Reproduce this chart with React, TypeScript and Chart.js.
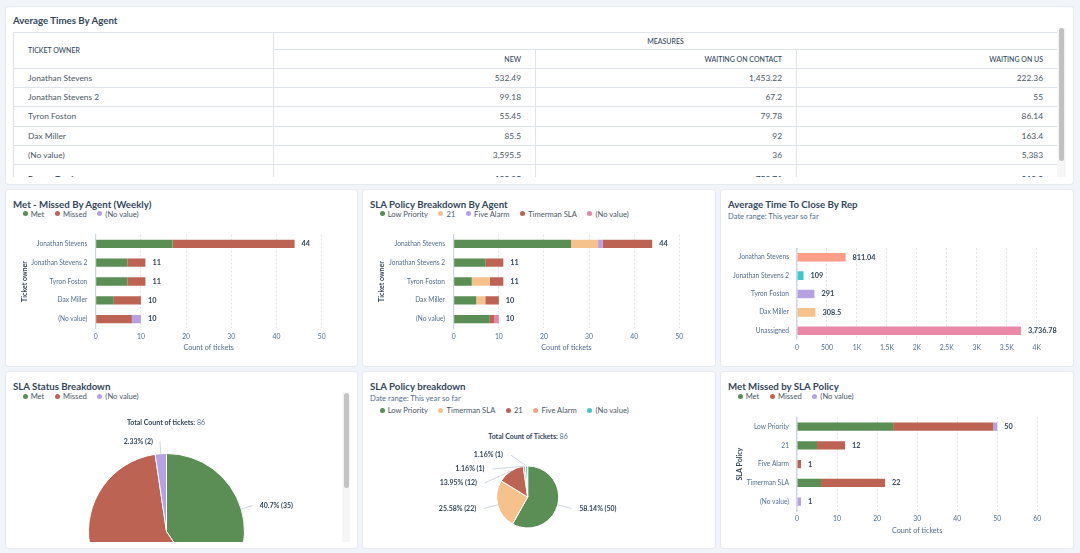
import React, { useEffect, useRef } from "react";
import { Chart, registerables } from "chart.js";

Chart.register(...registerables);

const FONT = "Lato, 'Open Sans', sans-serif";
Chart.defaults.font.family = FONT;

// ---------- Table data ----------
const tableOwners = ["Jonathan Stevens", "Jonathan Stevens 2", "Tyron Foston", "Dax Miller", "(No value)"];
const tableNew = ["532.49", "99.18", "55.45", "85.5", "3,595.5"];
const tableWaitingContact = ["1,453.22", "67.2", "79.78", "92", "36"];
const tableWaitingUs = ["222.36", "55", "86.14", "163.4", "5,383"];
const tableTotals = ["Report Total", "123.85", "758.71", "319.3"];

// ---------- Met - Missed By Agent ----------
const agents = ["Jonathan Stevens", "Jonathan Stevens 2", "Tyron Foston", "Dax Miller", "(No value)"];
const agentMet = [17, 7, 7, 4, 0];
const agentMissed = [27, 4, 4, 6, 8];
const agentNoValue = [0, 0, 0, 0, 2];

// ---------- SLA Policy Breakdown By Agent ----------
const policyLowPriority = [26, 7, 4, 5, 8];
const policy21 = [6, 0, 4, 2, 0];
const policyFiveAlarm = [1, 0, 0, 0, 0];
const policyTimerman = [11, 4, 3, 3, 1];
const policyNoValue = [0, 0, 0, 0, 1];

// ---------- Average Time To Close By Rep ----------
const reps = ["Jonathan Stevens", "Jonathan Stevens 2", "Tyron Foston", "Dax Miller", "Unassigned"];
const repCloseTime = [811.04, 109, 291, 308.5, 3736.78];

// ---------- SLA Status Breakdown ----------
const statusLabels = ["Met", "Missed", "(No value)"];
const statusCounts = [35, 49, 2];

// ---------- SLA Policy breakdown ----------
const policyLabels = ["Low Priority", "Timerman SLA", "21", "Five Alarm", "(No value)"];
const policyCounts = [50, 22, 12, 1, 1];

// ---------- Met Missed by SLA Policy ----------
const slaPolicies = ["Low Priority", "21", "Five Alarm", "Timerman SLA", "(No value)"];
const slaMet = [24, 5, 0, 6, 0];
const slaMissed = [25, 7, 1, 16, 0];
const slaNoValue = [1, 0, 0, 0, 1];

// ---------- colours ----------
const C_GREEN = "#5b8e54";
const C_RED = "#bd6353";
const C_PURPLE = "#b6a1e4";
const C_ORANGE = "#f5c28e";
const C_PINK = "#ec83a6";
const C_SALMON = "#ff9d86";
const C_TEAL = "#3ec9cd";
const C_UNASSIGNED = "#ea88a8";

const BG = "#f1f4f8";
const DARK = "#33475b";
const MID = "#4a5866";
const TICK = "#516f90";
const GRID = "#dfe3eb";
const AXIS = "#cbd6e2";

const fmt = (v: number) => v.toLocaleString("en-US", { maximumFractionDigits: 2 });

const totalsPlugin = {
  id: "totals",
  afterDatasetsDraw(chart: any, _args: any, opts: any) {
    if (!opts || !opts.display) return;
    const { ctx } = chart;
    const xs = chart.scales.x;
    const ys = chart.scales.y;
    const n = chart.data.labels.length;
    ctx.save();
    ctx.font = `700 ${opts.size}px ${FONT}`;
    ctx.fillStyle = DARK;
    ctx.textBaseline = "middle";
    ctx.textAlign = "left";
    for (let i = 0; i < n; i++) {
      let sum = 0;
      chart.data.datasets.forEach((d: any) => (sum += Number(d.data[i]) || 0));
      ctx.fillText(fmt(sum), xs.getPixelForValue(sum) + opts.gap, ys.getPixelForValue(i));
    }
    ctx.restore();
  },
};

const pieLabelsPlugin = {
  id: "pieLabels",
  afterDatasetsDraw(chart: any, _args: any, opts: any) {
    if (!opts || !opts.display) return;
    const meta = chart.getDatasetMeta(0);
    const data = chart.data.datasets[0].data as number[];
    const total = data.reduce((a, b) => a + b, 0);
    const { ctx, chartArea } = chart;
    const items = meta.data.map((arc: any, i: number) => {
      const p = arc.getProps(["x", "y", "startAngle", "endAngle", "outerRadius"], true);
      const mid = (p.startAngle + p.endAngle) / 2;
      const R = p.outerRadius + opts.distance;
      return {
        i,
        side: Math.cos(mid) >= 0 ? 1 : -1,
        sx: p.x + Math.cos(mid) * p.outerRadius,
        sy: p.y + Math.sin(mid) * p.outerRadius,
        ty: p.y + Math.sin(mid) * R,
        cx: p.x,
        cy: p.y,
        R,
      };
    });
    [1, -1].forEach((side) => {
      const list = items.filter((it: any) => it.side === side).sort((a: any, b: any) => a.ty - b.ty);
      let prev = chartArea.top + opts.minY - opts.spacing;
      list.forEach((it: any) => {
        it.ty = Math.max(it.ty, prev + opts.spacing);
        prev = it.ty;
      });
    });
    ctx.save();
    ctx.font = `700 ${opts.size}px ${FONT}`;
    ctx.textBaseline = "middle";
    items.forEach((it: any) => {
      const dy = it.ty - it.cy;
      const dx = Math.sqrt(Math.max(0, it.R * it.R - dy * dy));
      const lx = it.cx + it.side * dx;
      ctx.strokeStyle = AXIS;
      ctx.lineWidth = 1;
      ctx.beginPath();
      ctx.moveTo(it.sx, it.sy);
      ctx.lineTo(lx, it.ty);
      ctx.stroke();
      const v = data[it.i];
      const pct = Math.round((v / total) * 10000) / 100;
      ctx.fillStyle = DARK;
      ctx.textAlign = it.side > 0 ? "left" : "right";
      ctx.fillText(`${pct}% (${v})`, lx + it.side * opts.pad, it.ty);
    });
    ctx.restore();
  },
};

type Series = { label: string; data: number[]; color: string | string[] };
type BarSpec = {
  labels: string[];
  series: Series[];
  max: number;
  step: number;
  kFormat?: boolean;
  xTitle?: string;
  yTitle?: string;
  padding: { top: number; right: number; left: number; bottom: number };
  yWidth: number;
  xHeight: number;
  yTickPad: number;
  xTickPad: number;
  yTitlePad?: number;
  xTitleBottom?: number;
  barPct: number;
};

function barConfig(s: BarSpec): any {
  return {
    type: "bar",
    data: {
      labels: s.labels,
      datasets: s.series.map((d) => ({
        label: d.label,
        data: d.data,
        backgroundColor: d.color,
        borderWidth: 0,
        barPercentage: s.barPct,
        categoryPercentage: 1,
      })),
    },
    options: {
      indexAxis: "y",
      responsive: false,
      animation: false,
      layout: { padding: s.padding },
      plugins: {
        legend: { display: false },
        tooltip: { enabled: false },
        totals: { display: true, size: 7.3, gap: 7 },
      },
      scales: {
        x: {
          stacked: true,
          min: 0,
          max: s.max,
          ticks: {
            stepSize: s.step,
            padding: s.xTickPad,
            color: TICK,
            font: { size: 6.8 },
            maxRotation: 0,
            autoSkip: false,
            callback: (v: any) => {
              const n = Number(v);
              return s.kFormat && n >= 1000 ? `${n / 1000}K` : `${n}`;
            },
          },
          grid: { color: GRID, drawTicks: false, lineWidth: 1 },
          border: { display: false, dash: [2, 2] },
          title: s.xTitle
            ? { display: true, text: s.xTitle, color: TICK, font: { size: 7.2 }, padding: { top: 0, bottom: s.xTitleBottom } }
            : { display: false },
          afterFit: (sc: any) => {
            sc.height = s.xHeight;
          },
        },
        y: {
          stacked: true,
          grid: { display: false, drawTicks: false },
          border: { display: true, color: AXIS, width: 1.2 },
          ticks: { padding: s.yTickPad, color: TICK, font: { size: 6.6 }, autoSkip: false },
          title: s.yTitle
            ? { display: true, text: s.yTitle, color: DARK, font: { size: 7, weight: "bold" }, padding: { top: s.yTitlePad, bottom: 0 } }
            : { display: false },
          afterFit: (sc: any) => {
            sc.width = s.yWidth;
            sc.paddingTop = 0;
            sc.paddingBottom = 0;
          },
        },
      },
    },
    plugins: [totalsPlugin],
  };
}

function pieConfig(labels: string[], data: number[], colors: string[], padding: any, lab: any): any {
  return {
    type: "pie",
    data: { labels, datasets: [{ data, backgroundColor: colors, borderColor: "#ffffff", borderWidth: 1 }] },
    options: {
      responsive: false,
      animation: false,
      layout: { padding },
      plugins: {
        legend: { display: false },
        tooltip: { enabled: false },
        pieLabels: { display: true, spacing: 13.8, size: 7, ...lab },
      },
    },
    plugins: [pieLabelsPlugin],
  };
}

function ChartCanvas({ config, w, h }: { config: () => any; w: number; h: number }) {
  const ref = useRef<HTMLCanvasElement>(null);
  useEffect(() => {
    const chart = new Chart(ref.current as HTMLCanvasElement, config());
    return () => chart.destroy();
  }, []);
  return <canvas ref={ref} width={w} height={h} style={{ display: "block", width: w, height: h }} />;
}

function Card({ left, top, w, h, children }: any) {
  return (
    <div
      style={{
        position: "absolute",
        left,
        top,
        width: w,
        height: h,
        background: "#ffffff",
        borderRadius: 3,
        boxShadow: "0 0 0 1px #e6ebf1",
        overflow: "hidden",
      }}
    >
      {children}
    </div>
  );
}

function Title({ text, y }: { text: string; y: number }) {
  return (
    <div style={{ position: "absolute", left: 7, top: y - 7, fontSize: 9.7, lineHeight: "14px", fontWeight: 700, color: DARK, whiteSpace: "nowrap" }}>
      {text}
    </div>
  );
}

function Sub({ text, y }: { text: string; y: number }) {
  return (
    <div style={{ position: "absolute", left: 7, top: y - 5, fontSize: 7.6, lineHeight: "10px", color: TICK, whiteSpace: "nowrap" }}>
      {text}
    </div>
  );
}

function Legend({ items, y }: { items: { label: string; color: string }[]; y: number }) {
  return (
    <div style={{ position: "absolute", left: 16.5, top: y - 5, height: 10, display: "flex", alignItems: "center", fontSize: 7.6, lineHeight: "10px", color: MID, whiteSpace: "nowrap" }}>
      {items.map((it) => (
        <span key={it.label} style={{ display: "flex", alignItems: "center", marginRight: 10.5 }}>
          <span style={{ width: 5, height: 5, borderRadius: "50%", background: it.color, marginRight: 3.2 }} />
          {it.label}
        </span>
      ))}
    </div>
  );
}

function TotalText({ label, value, x, y }: { label: string; value: number; x: number; y: number }) {
  return (
    <div style={{ position: "absolute", left: x - 100, width: 200, top: y - 5, textAlign: "center", fontSize: 7, lineHeight: "10px", color: DARK, whiteSpace: "nowrap" }}>
      <span style={{ fontWeight: 700 }}>{label}</span> <span style={{ color: TICK }}>{value}</span>
    </div>
  );
}

function TableCard() {
  const line = `1px solid ${GRID}`;
  const th: React.CSSProperties = { borderRight: line, borderBottom: line, padding: "0 14px", fontSize: 7, color: DARK, fontWeight: 500, whiteSpace: "nowrap" };
  const td: React.CSSProperties = { borderRight: line, borderBottom: line, padding: "0 14px", fontSize: 8.4, color: MID, whiteSpace: "nowrap" };
  return (
    <Card left={6} top={7} w={1067} h={176.5}>
      <Title text="Average Times By Agent" y={13} />
      <div style={{ position: "absolute", left: 7, top: 24.7, width: 1044, height: 145.3, overflow: "hidden" }}>
        <table style={{ borderCollapse: "collapse", tableLayout: "fixed", width: 1044, borderTop: line, borderLeft: line }}>
          <colgroup>
            <col style={{ width: 260 }} />
            <col style={{ width: 262 }} />
            <col style={{ width: 261 }} />
            <col style={{ width: 261 }} />
          </colgroup>
          <tbody>
            <tr style={{ height: 17.6 }}>
              <td rowSpan={2} style={{ ...th, textAlign: "left" }}>TICKET OWNER</td>
              <td colSpan={3} style={{ ...th, textAlign: "center" }}>MEASURES</td>
            </tr>
            <tr style={{ height: 18.4 }}>
              <td style={{ ...th, textAlign: "right" }}>NEW</td>
              <td style={{ ...th, textAlign: "right" }}>WAITING ON CONTACT</td>
              <td style={{ ...th, textAlign: "right" }}>WAITING ON US</td>
            </tr>
            {tableOwners.map((o, i) => (
              <tr key={o} style={{ height: 19.3 }}>
                <td style={{ ...td, textAlign: "left" }}>{o}</td>
                <td style={{ ...td, textAlign: "right" }}>{tableNew[i]}</td>
                <td style={{ ...td, textAlign: "right" }}>{tableWaitingContact[i]}</td>
                <td style={{ ...td, textAlign: "right" }}>{tableWaitingUs[i]}</td>
              </tr>
            ))}
            <tr style={{ height: 28 }}>
              <td style={{ ...td, textAlign: "left", fontWeight: 700, color: DARK }}>{tableTotals[0]}</td>
              <td style={{ ...td, textAlign: "right", fontWeight: 700, color: DARK }}>{tableTotals[1]}</td>
              <td style={{ ...td, textAlign: "right", fontWeight: 700, color: DARK }}>{tableTotals[2]}</td>
              <td style={{ ...td, textAlign: "right", fontWeight: 700, color: DARK }}>{tableTotals[3]}</td>
            </tr>
          </tbody>
        </table>
      </div>
      <div style={{ position: "absolute", left: 1050.7, top: 21, width: 9, height: 149, background: "#f6f6f6" }} />
      <div style={{ position: "absolute", left: 1053, top: 21.3, width: 5, height: 132.7, background: "#c1c1c1", borderRadius: 3 }} />
    </Card>
  );
}

const legendStatus = [
  { label: "Met", color: C_GREEN },
  { label: "Missed", color: C_RED },
  { label: "(No value)", color: C_PURPLE },
];

export default function App() {
  return (
    <div style={{ position: "fixed", left: 0, top: 0, width: 1080, height: 553, background: BG, fontFamily: FONT, overflow: "hidden" }}>
      <TableCard />

      {/* Met - Missed By Agent */}
      <Card left={6} top={190} w={351} h={176}>
        <Title text="Met - Missed By Agent (Weekly)" y={13.7} />
        <Legend items={legendStatus} y={23.7} />
        <div style={{ position: "absolute", left: 0, top: 40 }}>
          <ChartCanvas
            w={351}
            h={135}
            config={() =>
              barConfig({
                labels: agents,
                series: [
                  { label: "Met", data: agentMet, color: C_GREEN },
                  { label: "Missed", data: agentMissed, color: C_RED },
                  { label: "(No value)", data: agentNoValue, color: C_PURPLE },
                ],
                max: 50,
                step: 10,
                xTitle: "Count of tickets",
                yTitle: "Ticket owner",
                padding: { top: 4.6, right: 35.3, left: 0, bottom: 0 },
                yWidth: 89.7,
                xHeight: 36.6,
                yTickPad: 8.4,
                xTickPad: 4.4,
                yTitlePad: 14.5,
                xTitleBottom: 12.8,
                barPct: 0.44,
              })
            }
          />
        </div>
      </Card>

      {/* SLA Policy Breakdown By Agent */}
      <Card left={363} top={190} w={352} h={176}>
        <Title text="SLA Policy Breakdown By Agent" y={13.7} />
        <Legend
          items={[
            { label: "Low Priority", color: C_GREEN },
            { label: "21", color: C_ORANGE },
            { label: "Five Alarm", color: C_PURPLE },
            { label: "Timerman SLA", color: C_RED },
            { label: "(No value)", color: C_PINK },
          ]}
          y={23.7}
        />
        <div style={{ position: "absolute", left: 0, top: 40 }}>
          <ChartCanvas
            w={352}
            h={135}
            config={() =>
              barConfig({
                labels: agents,
                series: [
                  { label: "Low Priority", data: policyLowPriority, color: C_GREEN },
                  { label: "21", data: policy21, color: C_ORANGE },
                  { label: "Five Alarm", data: policyFiveAlarm, color: C_PURPLE },
                  { label: "Timerman SLA", data: policyTimerman, color: C_RED },
                  { label: "(No value)", data: policyNoValue, color: C_PINK },
                ],
                max: 50,
                step: 10,
                xTitle: "Count of tickets",
                yTitle: "Ticket owner",
                padding: { top: 4.6, right: 35.7, left: 0, bottom: 0 },
                yWidth: 90.7,
                xHeight: 36.6,
                yTickPad: 8.7,
                xTickPad: 4.4,
                yTitlePad: 15,
                xTitleBottom: 12.8,
                barPct: 0.44,
              })
            }
          />
        </div>
      </Card>

      {/* Average Time To Close By Rep */}
      <Card left={721} top={190} w={352} h={176}>
        <Title text="Average Time To Close By Rep" y={13.7} />
        <Sub text="Date range:  This year so far" y={26.3} />
        <div style={{ position: "absolute", left: 0, top: 40 }}>
          <ChartCanvas
            w={352}
            h={135}
            config={() =>
              barConfig({
                labels: reps,
                series: [{ label: "Average time to close", data: repCloseTime, color: [C_SALMON, C_TEAL, C_PURPLE, C_ORANGE, C_UNASSIGNED] }],
                max: 4000,
                step: 500,
                kFormat: true,
                padding: { top: 18.1, right: 36.3, left: 0, bottom: 0 },
                yWidth: 76,
                xHeight: 25.1,
                yTickPad: 8,
                xTickPad: 4,
                barPct: 0.47,
              })
            }
          />
        </div>
      </Card>

      {/* SLA Status Breakdown */}
      <Card left={6} top={372} w={351} h={176}>
        <Title text="SLA Status Breakdown" y={13.7} />
        <Legend items={legendStatus} y={24} />
        <div style={{ position: "absolute", left: 0, top: 20, width: 336, height: 149.7, overflow: "hidden" }}>
          <TotalText label="Total Count of tickets:" value={statusCounts.reduce((a, b) => a + b, 0)} x={160} y={30.3} />
          <ChartCanvas
            w={336}
            h={260}
            config={() =>
              pieConfig(statusLabels, statusCounts, [C_GREEN, C_RED, C_PURPLE], { top: 61, left: 82, right: 97, bottom: 42 }, { distance: 12, pad: 7, minY: -20 })
            }
          />
        </div>
        <div style={{ position: "absolute", left: 335.7, top: 19.7, width: 8.3, height: 150, background: "#f6f6f6" }} />
        <div style={{ position: "absolute", left: 338, top: 21, width: 4.5, height: 95, background: "#c4c4c4", borderRadius: 3 }} />
      </Card>

      {/* SLA Policy breakdown */}
      <Card left={363} top={372} w={352} h={176}>
        <Title text="SLA Policy breakdown" y={13.7} />
        <Sub text="Date range:  This year so far" y={26} />
        <Legend
          items={[
            { label: "Low Priority", color: C_GREEN },
            { label: "Timerman SLA", color: C_ORANGE },
            { label: "21", color: C_RED },
            { label: "Five Alarm", color: C_SALMON },
            { label: "(No value)", color: C_TEAL },
          ]}
          y={38}
        />
        <TotalText label="Total Count of Tickets:" value={policyCounts.reduce((a, b) => a + b, 0)} x={165} y={64} />
        <div style={{ position: "absolute", left: 0, top: 50 }}>
          <ChartCanvas
            w={352}
            h={120}
            config={() =>
              pieConfig(policyLabels, policyCounts, [C_GREEN, C_ORANGE, C_RED, C_SALMON, C_TEAL], { top: 43.5, left: 133.2, right: 155.8, bottom: 13.5 }, { distance: 14, pad: 8, minY: -10.3 })
            }
          />
        </div>
      </Card>

      {/* Met Missed by SLA Policy */}
      <Card left={721} top={372} w={352} h={176}>
        <Title text="Met Missed by SLA Policy" y={13.7} />
        <Legend items={legendStatus} y={24} />
        <div style={{ position: "absolute", left: 0, top: 40 }}>
          <ChartCanvas
            w={352}
            h={135}
            config={() =>
              barConfig({
                labels: slaPolicies,
                series: [
                  { label: "Met", data: slaMet, color: C_GREEN },
                  { label: "Missed", data: slaMissed, color: C_RED },
                  { label: "(No value)", data: slaNoValue, color: C_PURPLE },
                ],
                max: 60,
                step: 10,
                xTitle: "Count of tickets",
                yTitle: "SLA Policy",
                padding: { top: 5.3, right: 35.7, left: 0, bottom: 0 },
                yWidth: 76,
                xHeight: 36,
                yTickPad: 8,
                xTickPad: 3.8,
                yTitlePad: 14.8,
                xTitleBottom: 12.5,
                barPct: 0.44,
              })
            }
          />
        </div>
      </Card>
    </div>
  );
}
